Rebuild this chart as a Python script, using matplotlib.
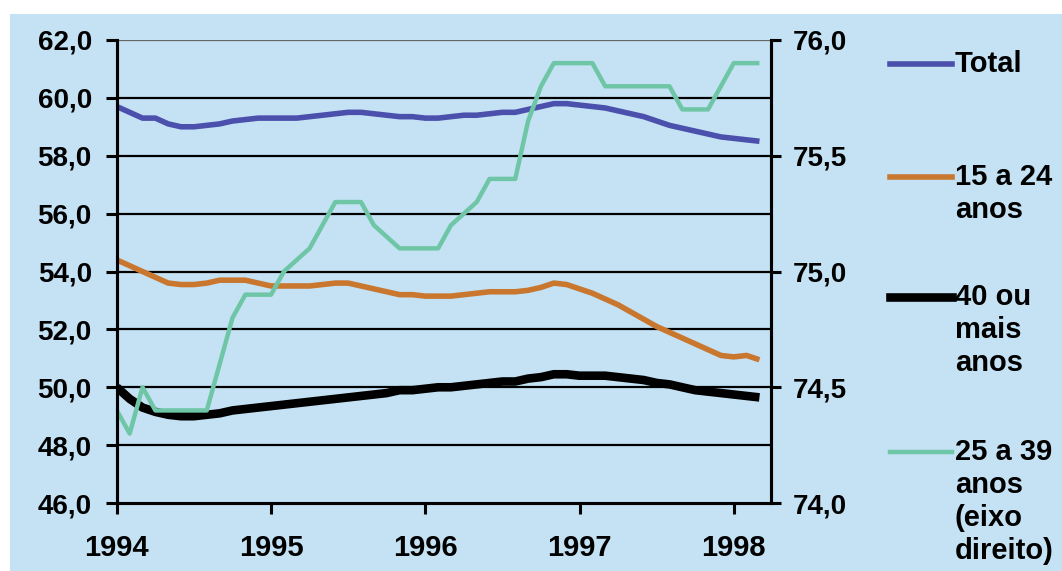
import matplotlib
matplotlib.use("Agg")
import matplotlib.pyplot as plt
from matplotlib.ticker import FuncFormatter, FixedLocator
from matplotlib.patches import Rectangle
from matplotlib.lines import Line2D

# dados mensais, jan/1994 a mar/1998
meses = list(range(51))
anos = ["1994", "1995", "1996", "1997", "1998"]
pos_anos = [0, 12, 24, 36, 48]

total = [59.7, 59.5, 59.3, 59.3, 59.1, 59.0, 59.0, 59.05, 59.1, 59.2,
         59.25, 59.3, 59.3, 59.3, 59.3, 59.35, 59.4, 59.45, 59.5, 59.5,
         59.45, 59.4, 59.35, 59.35, 59.3, 59.3, 59.35, 59.4, 59.4, 59.45,
         59.5, 59.5, 59.6, 59.7, 59.8, 59.8, 59.75, 59.7, 59.65, 59.55,
         59.45, 59.35, 59.2, 59.05, 58.95, 58.85, 58.75, 58.65, 58.6, 58.55,
         58.5]

jovens = [54.4, 54.2, 54.0, 53.8, 53.6, 53.55, 53.55, 53.6, 53.7, 53.7,
          53.7, 53.6, 53.5, 53.5, 53.5, 53.5, 53.55, 53.6, 53.6, 53.5,
          53.4, 53.3, 53.2, 53.2, 53.15, 53.15, 53.15, 53.2, 53.25, 53.3,
          53.3, 53.3, 53.35, 53.45, 53.6, 53.55, 53.4, 53.25, 53.05, 52.85,
          52.6, 52.35, 52.1, 51.9, 51.7, 51.5, 51.3, 51.1, 51.05, 51.1,
          50.95]

mais_40 = [50.0, 49.6, 49.3, 49.15, 49.05, 49.0, 49.0, 49.05, 49.1, 49.2,
           49.25, 49.3, 49.35, 49.4, 49.45, 49.5, 49.55, 49.6, 49.65, 49.7,
           49.75, 49.8, 49.9, 49.9, 49.95, 50.0, 50.0, 50.05, 50.1, 50.15,
           50.2, 50.2, 50.3, 50.35, 50.45, 50.45, 50.4, 50.4, 50.4, 50.35,
           50.3, 50.25, 50.15, 50.1, 50.0, 49.9, 49.85, 49.8, 49.75, 49.7,
           49.65]

# eixo direito
adultos = [74.4, 74.3, 74.5, 74.4, 74.4, 74.4, 74.4, 74.4, 74.6, 74.8,
           74.9, 74.9, 74.9, 75.0, 75.05, 75.1, 75.2, 75.3, 75.3, 75.3,
           75.2, 75.15, 75.1, 75.1, 75.1, 75.1, 75.2, 75.25, 75.3, 75.4,
           75.4, 75.4, 75.65, 75.8, 75.9, 75.9, 75.9, 75.9, 75.8, 75.8,
           75.8, 75.8, 75.8, 75.8, 75.7, 75.7, 75.7, 75.8, 75.9, 75.9,
           75.9]

rotulos = ["Total", "15 a 24\nanos", "40 ou\nmais\nanos",
           "25 a 39\nanos\n(eixo\ndireito)"]

cor_total = "#4b50ad"
cor_jovens = "#c9772f"
cor_40 = "#000000"
cor_adultos = "#6fc6a6"
fundo = "#c4e2f4"

plt.rcParams['font.family'] = ['Liberation Sans', 'DejaVu Sans']
plt.rcParams['font.weight'] = 'bold'

fig = plt.figure(figsize=(10.62, 5.71), dpi=100)
fig.patch.set_facecolor("white")
fig.patches.append(Rectangle((10 / 1062, 0), 1, 1 - 14 / 571,
                             transform=fig.transFigure, facecolor=fundo,
                             edgecolor="none", zorder=-10))

ax = fig.add_axes([0.110, 0.119, 0.616, 0.811])
ax.patch.set_visible(False)
ax2 = ax.twinx()
ax2.patch.set_visible(False)

ax.plot(meses, total, color=cor_total, lw=4.0, solid_capstyle="butt")
ax.plot(meses, jovens, color=cor_jovens, lw=4.0, solid_capstyle="butt")
ax.plot(meses, mais_40, color=cor_40, lw=6.2, solid_capstyle="butt")
ax2.plot(meses, adultos, color=cor_adultos, lw=3.2, solid_capstyle="butt")

ax.set_xlim(0, 50.9)
ax.set_ylim(46, 62)
ax2.set_ylim(74, 76)

ax.set_yticks([46, 48, 50, 52, 54, 56, 58, 60, 62])
ax2.set_yticks([74.0, 74.5, 75.0, 75.5, 76.0])
ax.xaxis.set_major_locator(FixedLocator(pos_anos))
ax.set_xticklabels(anos)

virgula = FuncFormatter(lambda v, p: f"{v:.1f}".replace(".", ","))
ax.yaxis.set_major_formatter(virgula)
ax2.yaxis.set_major_formatter(virgula)

for y in [48, 50, 52, 54, 56, 58, 60]:
    ax.axhline(y, color="black", lw=1.6, zorder=0)
ax.axhline(62, color="#666666", lw=1.6, zorder=0)

for a in (ax, ax2):
    a.spines["top"].set_visible(False)
    for s in ("left", "right", "bottom"):
        a.spines[s].set_linewidth(2.2)

ax.tick_params(axis="y", labelsize=20, length=8, width=2.2, pad=10)
ax2.tick_params(axis="y", labelsize=20, length=7, width=2.2, pad=9)
ax.tick_params(axis="x", labelsize=21, length=8, width=2.2, pad=14)

# legenda manual
cores = [cor_total, cor_jovens, cor_40, cor_adultos]
larguras = [4.0, 4.0, 6.2, 3.2]
topos = [64, 177, 297, 452]
passo = 33
for cor, lw, rot, y0 in zip(cores, larguras, rotulos, topos):
    yf = 1 - y0 / 571
    fig.add_artist(Line2D([890 / 1062, 952 / 1062], [yf, yf], color=cor,
                          lw=lw, transform=fig.transFigure))
    for k, linha in enumerate(rot.split("\n")):
        fig.text(955 / 1062, 1 - (y0 + k * passo) / 571, linha, fontsize=21,
                 fontweight="bold", va="center", ha="left")

fig.savefig("out.png", dpi=100, facecolor=fig.get_facecolor())
